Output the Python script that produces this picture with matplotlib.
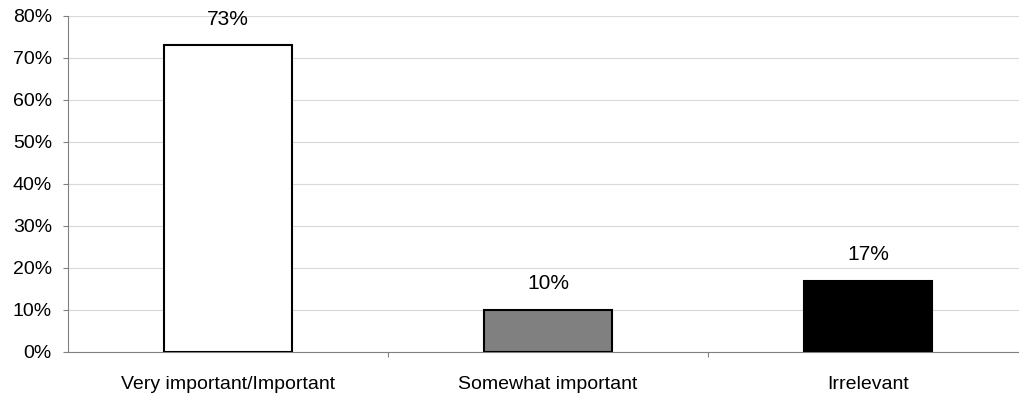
import matplotlib
matplotlib.use("Agg")
import matplotlib.pyplot as plt
from matplotlib.ticker import FuncFormatter, MultipleLocator

categories = ["Very important/Important", "Somewhat important", "Irrelevant"]
shares = [73, 10, 17]
labels = ["73%", "10%", "17%"]
bar_colors = ["#ffffff", "#808080", "#000000"]

plt.rcParams["font.family"] = ["Liberation Sans", "DejaVu Sans"]

fig = plt.figure(figsize=(10.2, 3.98), dpi=100)
ax = fig.add_axes([68 / 1020, 46 / 398, 960 / 1020, 336 / 398])

x = list(range(len(categories)))
ax.bar(x, shares, width=0.4, color=bar_colors, edgecolor="black",
       linewidth=1.5, zorder=3)
for xi, val, txt in zip(x, shares, labels):
    ax.annotate(txt, (xi, val), xytext=(0, 19), textcoords="offset points",
                ha="center", va="center", fontsize=15)

ax.set_xlim(-0.5, len(categories) - 0.5)
ax.set_ylim(0, 80)
ax.yaxis.set_major_locator(MultipleLocator(10))
ax.yaxis.set_major_formatter(FuncFormatter(lambda v, _: f"{v:.0f}%"))
ax.grid(axis="y", color="#d9d9d9", linewidth=0.8, zorder=0)

# category labels centred, tick marks on the boundaries between them
ax.set_xticks([i + 0.5 for i in x])
ax.set_xticks(x, minor=True)
ax.set_xticklabels([])
ax.set_xticklabels(categories, minor=True)
ax.tick_params(axis="x", which="minor", length=0, pad=17, labelsize=14)
ax.tick_params(axis="x", which="major", length=3.6, color="#808080")
ax.tick_params(axis="y", length=3.6, color="#808080", labelsize=14, pad=8)

for side in ("top", "right"):
    ax.spines[side].set_visible(False)
for side in ("left", "bottom"):
    ax.spines[side].set_color("#808080")

fig.savefig("out.png", dpi=100)
